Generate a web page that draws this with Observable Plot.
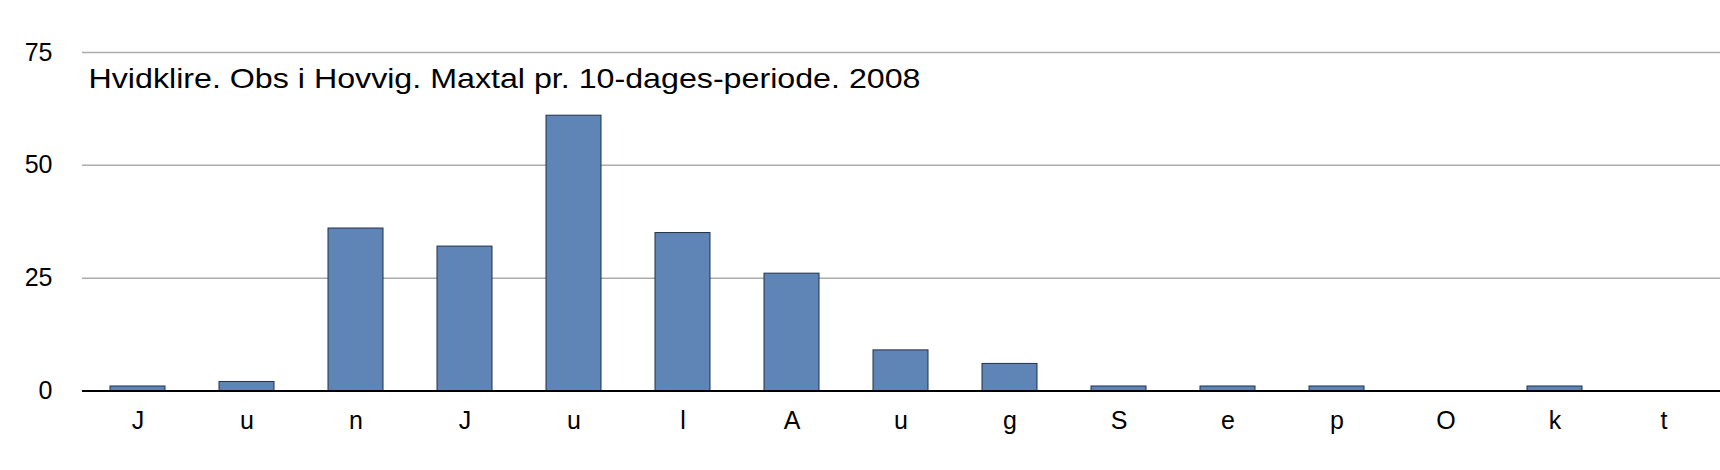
<!DOCTYPE html>
<html>
<head>
<meta charset="utf-8">
<script src="https://cdn.jsdelivr.net/npm/d3@7"></script>
<script src="https://cdn.jsdelivr.net/npm/@observablehq/plot@0.6"></script>
<style>
  html, body { margin: 0; padding: 0; background: #fff; }
  #chart svg { display: block; }
</style>
</head>
<body>
<div id="chart"></div>
<script>
const labels = ["J", "u", "n", "J", "u", "l", "A", "u", "g", "S", "e", "p", "O", "k", "t"];
const values = [1, 2, 36, 32, 61, 35, 26, 9, 6, 1, 1, 1, 0, 1, 0];
const yTicks = [0, 25, 50, 75];
const gridTicks = [25, 50, 75];
const titleText = "Hvidklire. Obs i Hovvig. Maxtal pr. 10-dages-periode. 2008";

const data = labels.map((l, i) => ({i, label: l, value: values[i]}));

const chart = Plot.plot({
  width: 1720,
  height: 470,
  marginLeft: 82,
  marginRight: 0,
  marginTop: 52,
  marginBottom: 79.5,
  style: {fontFamily: "'Liberation Sans', Arial, Helvetica, sans-serif", fontSize: "25px", color: "#000", background: "#fff"},
  x: {domain: d3.range(labels.length), paddingInner: 0.5, paddingOuter: 0.22, insetRight: 2, label: null},
  y: {domain: [0, 75], label: null},
  marks: [
    Plot.ruleY(gridTicks, {stroke: "#acacac", strokeWidth: 1.5}),
    Plot.barY(data, {x: "i", y: "value", fill: "#5f84b6", stroke: "#233148", strokeWidth: 1}),
    Plot.ruleY([0], {stroke: "#000", strokeWidth: 2}),
    Plot.axisY(yTicks, {tickSize: 0, tickPadding: 30, label: null, fontSize: 25}),
    Plot.axisX({tickSize: 0, tickPadding: 20, tickFormat: (d) => labels[d], label: null, fontSize: 25}),
    Plot.text([titleText], {frameAnchor: "top-left", textAnchor: "start", lineAnchor: "bottom", dx: 6, dy: 35, fontSize: 27.5, fill: "#000", className: "chart-title"})
  ]
});
d3.select(chart).selectAll(".chart-title text")
  .attr("textLength", 832)
  .attr("lengthAdjust", "spacingAndGlyphs");
document.getElementById("chart").appendChild(chart);
</script>
</body>
</html>
